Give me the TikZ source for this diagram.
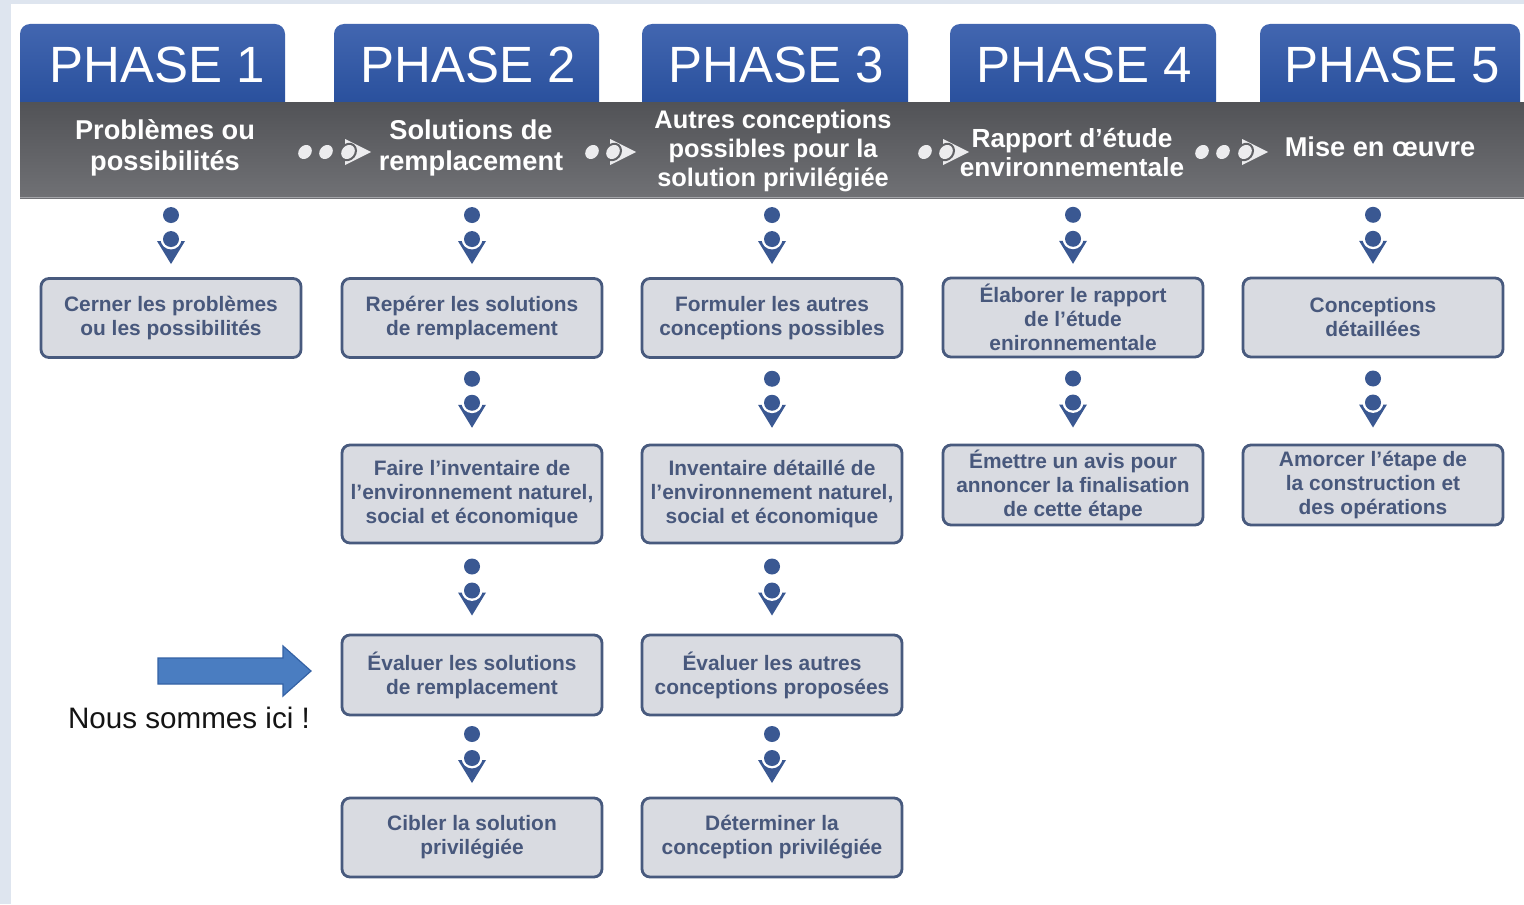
\documentclass[tikz,border=0pt]{standalone}
\usepackage{fontspec}
\setmainfont{Liberation Sans}
\usetikzlibrary{calc}
\definecolor{framec}{RGB}{222,229,239}
\definecolor{tabtop}{RGB}{66,102,176}
\definecolor{tabbot}{RGB}{38,77,154}
\definecolor{bartop}{RGB}{82,83,87}
\definecolor{barbot}{RGB}{112,113,117}
\definecolor{barmid}{RGB}{96,97,101}
\definecolor{barline}{RGB}{165,166,170}
\definecolor{boxfill}{RGB}{217,219,225}
\definecolor{boxline}{RGB}{72,90,126}
\definecolor{boxtext}{RGB}{72,88,124}
\definecolor{glyphc}{RGB}{58,88,146}
\definecolor{dotc}{RGB}{236,236,238}
\definecolor{arrowfill}{RGB}{74,125,193}
\definecolor{arrowline}{RGB}{52,98,165}
\newcommand\vconn[2]{%
  \path (#1) -- (#2) coordinate[midway] (m);
  \begin{scope}[shift={(m)}]
    \fill[glyphc] (0,-22.5) circle[radius=4pt];
    \fill[glyphc] (-14,3.5) -- (14,3.5) -- (0,26.5) -- cycle;
    \fill[white] (0,1.5) circle[radius=5.2pt];
    \fill[glyphc] (0,1.5) circle[radius=4pt];
  \end{scope}}
\newcommand\bardots[2]{%
  \foreach \dx in {#1} {\fill[dotc, shift={(\dx,152)}, rotate=50] (0,0) ellipse[x radius=3.8pt, y radius=3.1pt];}
  \fill[dotc] (#2-3,139) -- (#2+23,152) -- (#2-3,165) -- cycle;
  \fill[barmid, shift={(#2,152)}, rotate=50] (0,0) ellipse[x radius=4.9pt, y radius=4.2pt];
  \fill[dotc, shift={(#2,152)}, rotate=50] (0,0) ellipse[x radius=3.8pt, y radius=3.1pt];}
\begin{document}
\begin{tikzpicture}[x=0.5pt,y=-0.5pt,
  phasetxt/.style={text=white, font=\fontsize{25.5}{28}\selectfont, inner sep=0},
  bartxt/.style={text=white, font=\bfseries\fontsize{13.6}{15.5}\selectfont, align=center, inner sep=0},
  stepbox/.style={draw=boxline, line width=1.4pt, fill=boxfill, rounded corners=4pt,
    minimum width=130pt, text=boxtext, font=\bfseries\fontsize{10.45}{12}\selectfont,
    align=center, inner sep=0}]
\useasboundingbox (0,0) rectangle (1524,904);
\fill[framec] (0,0) rectangle (1524,904);
\fill[white] (11,4) rectangle (1524,904);
% tabs
\foreach \a/\b in {20/285,334/599,642/908,950/1216,1260/1520}
  \shade[top color=tabtop, bottom color=tabbot, rounded corners=5pt] (\a,24) rectangle (\b,115);
% bar
\shade[top color=bartop, bottom color=barbot] (20,103) rectangle (1524,198);
\draw[barline, line width=0.6pt] (20,197.5) -- (1524,197.5);
% phase titles
\node[phasetxt] (p1) at (157,65) {PHASE 1};
\node[phasetxt] (p2) at (468,65) {PHASE 2};
\node[phasetxt] (p3) at (776,65) {PHASE 3};
\node[phasetxt] (p4) at (1084,65) {PHASE 4};
\node[phasetxt] (p5) at (1392,65) {PHASE 5};
% bar labels
\node[bartxt] (h1) at (165,148) {Problèmes ou\\possibilités};
\node[bartxt] (h2) at (471,148) {Solutions de\\remplacement};
\node[bartxt, font=\bfseries\fontsize{12.7}{14.5}\selectfont] (h3) at (773,151) {Autres conceptions\\possibles pour la\\solution privilégiée};
\node[bartxt, font=\bfseries\fontsize{13.1}{14.5}\selectfont] (h4) at (1072,152.5) {Rapport d’étude\\environnementale};
\node[bartxt] (h5) at (1380,147) {Mise en œuvre};
% bar dots
\bardots{305,326}{348}
\bardots{592}{613}
\bardots{925}{946}
\bardots{1202,1223}{1245}
% bar bottom coordinates
\coordinate (hb1) at (171,198);
\coordinate (hb2) at (472,198);
\coordinate (hb3) at (772,198);
\coordinate (hb4) at (1073,198);
\coordinate (hb5) at (1373,198);
% boxes
\node[stepbox, minimum height=39.5pt] (b11) at (171,318) {Cerner les problèmes\\ou les possibilités};
\node[stepbox, minimum height=39.5pt] (b21) at (472,318) {Repérer les solutions\\de remplacement};
\node[stepbox, minimum height=39.5pt] (b31) at (772,318) {Formuler les autres\\conceptions possibles};
\node[stepbox, minimum height=39.5pt] (b41) at (1073,317.5) {Élaborer le rapport\\de l’étude\\enironnementale};
\node[stepbox, minimum height=39.5pt] (b51) at (1373,317.5) {Conceptions\\détaillées};
\node[stepbox, minimum height=49pt] (b22) at (472,494) {Faire l’inventaire de\\l’environnement naturel,\\social et économique};
\node[stepbox, minimum height=49pt] (b32) at (772,494) {Inventaire détaillé de\\l’environnement naturel,\\social et économique};
\node[stepbox, minimum height=40pt] (b42) at (1073,485) {Émettre un avis pour\\annoncer la finalisation\\de cette étape};
\node[stepbox, minimum height=40pt] (b52) at (1373,485) {Amorcer l’étape de\\la construction et\\des opérations};
\node[stepbox, minimum height=40pt] (b23) at (472,675) {Évaluer les solutions\\de remplacement};
\node[stepbox, minimum height=40pt] (b33) at (772,675) {Évaluer les autres\\conceptions proposées};
\node[stepbox, minimum height=39.5pt] (b24) at (472,837.5) {Cibler la solution\\privilégiée};
\node[stepbox, minimum height=39.5pt] (b34) at (772,837.5) {Déterminer la\\conception privilégiée};
% connectors
\vconn{hb1}{b11.north}
\vconn{hb2}{b21.north}
\vconn{hb3}{b31.north}
\vconn{hb4}{b41.north}
\vconn{hb5}{b51.north}
\vconn{b21.south}{b22.north}
\vconn{b22.south}{b23.north}
\vconn{b23.south}{b24.north}
\vconn{b31.south}{b32.north}
\vconn{b32.south}{b33.north}
\vconn{b33.south}{b34.north}
\vconn{b41.south}{b42.north}
\vconn{b51.south}{b52.north}
% "we are here"
\fill[arrowfill, draw=arrowline, line width=0.6pt] (158,658) -- (283,658) -- (283,646) -- (311,671) -- (283,696) -- (283,684) -- (158,684) -- cycle;
\node[font=\fontsize{14.8}{17}\selectfont, text=black!92, inner sep=0] (ici) at (189,718) {Nous sommes ici !};
\end{tikzpicture}
\end{document}
